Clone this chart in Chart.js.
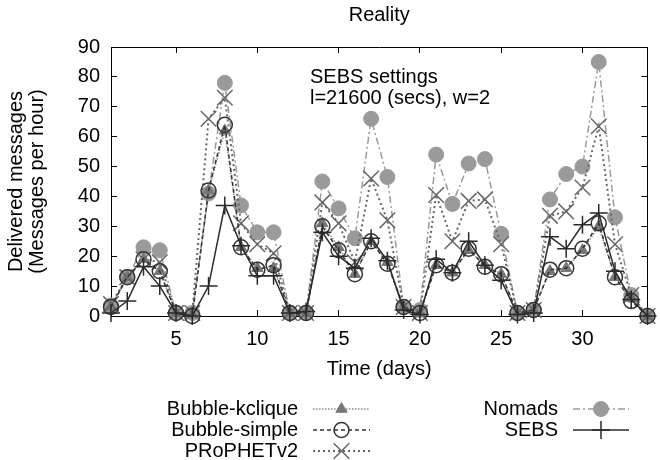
<!DOCTYPE html>
<html>
<head>
<meta charset="utf-8">
<script src="https://cdn.jsdelivr.net/npm/chart.js@4.4.0/dist/chart.umd.min.js"></script>
<style>
  html, body { margin: 0; padding: 0; background: #fff; }
</style>
</head>
<body>
<canvas id="myChart" width="660" height="460"></canvas>
<script>
const FONT = "'Liberation Sans', Arial, Helvetica, sans-serif";

const days = [1, 2, 3, 4, 5, 6, 7, 8, 9, 10, 11, 12, 13, 14, 15, 16, 17,
  18, 19, 20, 21, 22, 23, 24, 25, 26, 27, 28, 29, 30, 31, 32, 33, 34];
const xTicks = [5, 10, 15, 20, 25, 30];

const bubbleKclique = [3, 13, 19, 15, 1, 0.5, 42, 62, 23, 16, 16, 1, 1, 31, 23, 14, 25, 18,
  3, 1, 17, 14.5, 22, 17, 14, 1, 2, 15, 16, 22, 30, 13, 6, 0];
const bubbleSimple = [3, 13, 19, 15, 1, 0, 42, 64, 23, 15.5, 17, 1, 1, 30, 22, 14, 25, 17.5,
  3, 1, 17, 14.5, 22.5, 16.5, 14, 1, 2, 15.5, 16, 22.5, 31, 13, 5, 0];
const prophetV2 = [4, 13, 19, 18, 1, 1, 66, 73, 31, 24, 21, 1, 1, 38, 31, 18, 46, 32,
  3, 1, 40.5, 25, 38.5, 39, 24, 1, 2, 33.5, 35, 43, 63.5, 24, 7, 0];
const nomads = [3.5, 13, 23, 22, 1, 1, 41, 78, 37, 28, 28, 1, 1, 45, 36, 26, 66, 46.5,
  3, 2, 54, 37.5, 51, 52.5, 27.5, 1, 2, 39, 47.5, 50, 85, 33, 7, 0];
const sebs = [1, 5, 16.5, 10, 1, 0, 10, 37, 23.5, 13.5, 13.5, 1, 1.5, 28, 20, 16, 26, 18.5,
  2, 0.5, 19, 14.5, 25, 17, 12, 0.5, 1, 26.5, 22.5, 30.5, 34.5, 15, 5.5, 0];

const pts = arr => arr.map((v, i) => ({ x: days[i], y: v }));

const data = {
  datasets: [{
    label: 'Bubble-kclique',
    data: pts(bubbleKclique),
    borderColor: '#8c8c8c',
    borderDash: [1.5, 1.5],
    borderWidth: 1.5,
    pointStyle: 'triangle',
    pointRadius: 6.5,
    pointBackgroundColor: '#777',
    pointBorderColor: '#777',
    pointBorderWidth: 1,
    order: 4
  }, {
    label: 'Bubble-simple',
    data: pts(bubbleSimple),
    borderColor: '#333',
    borderDash: [4, 3],
    borderWidth: 1.5,
    pointStyle: 'circle',
    pointRadius: 7.5,
    pointBackgroundColor: 'rgba(0,0,0,0)',
    pointBorderColor: '#333',
    pointBorderWidth: 1.5,
    order: 2
  }, {
    label: 'PRoPHETv2',
    data: pts(prophetV2),
    borderColor: '#666',
    borderDash: [2, 3],
    borderWidth: 2,
    pointStyle: 'crossRot',
    pointRadius: 11,
    pointBackgroundColor: '#666',
    pointBorderColor: '#666',
    pointBorderWidth: 1.5,
    order: 3
  }, {
    label: 'Nomads',
    data: pts(nomads),
    borderColor: '#9a9a9a',
    borderDash: [7, 3, 2, 3],
    borderWidth: 1.5,
    pointStyle: 'circle',
    pointRadius: 7.5,
    pointBackgroundColor: '#9a9a9a',
    pointBorderColor: '#9a9a9a',
    pointBorderWidth: 1,
    order: 5
  }, {
    label: 'SEBS',
    data: pts(sebs),
    borderColor: '#2a2a2a',
    borderWidth: 1.5,
    pointStyle: 'cross',
    pointRadius: 9,
    pointBackgroundColor: '#2a2a2a',
    pointBorderColor: '#2a2a2a',
    pointBorderWidth: 1.5,
    order: 1
  }]
};

// legend slots like gnuplot: label right-aligned, then a line sample with the marker
const legendSlots = [
  { label: 'Bubble-kclique', right: 298, x1: 313, x2: 370, y: 409 },
  { label: 'Bubble-simple', right: 298, x1: 313, x2: 370, y: 430 },
  { label: 'PRoPHETv2', right: 298, x1: 313, x2: 370, y: 451 },
  { label: 'Nomads', right: 558, x1: 573, x2: 629, y: 409 },
  { label: 'SEBS', right: 558, x1: 573, x2: 629, y: 430 }
];

const gnuLegend = {
  id: 'gnuLegend',
  afterDraw(chart) {
    const ctx = chart.ctx;
    ctx.save();
    ctx.font = '20px ' + FONT;
    ctx.fillStyle = '#000';
    ctx.textAlign = 'left';
    ctx.textBaseline = 'middle';
    ctx.fillText('SEBS settings', 310, 77);
    ctx.fillText('l=21600 (secs), w=2', 310, 98);

    legendSlots.forEach(s => {
      const ds = chart.data.datasets.find(d => d.label === s.label);
      ctx.fillStyle = '#000';
      ctx.textAlign = 'right';
      ctx.setLineDash([]);
      ctx.fillText(s.label, s.right, s.y);

      ctx.beginPath();
      ctx.strokeStyle = ds.borderColor;
      ctx.lineWidth = ds.borderWidth;
      ctx.setLineDash(ds.borderDash || []);
      ctx.moveTo(s.x1, s.y);
      ctx.lineTo(s.x2, s.y);
      ctx.stroke();

      ctx.setLineDash([]);
      ctx.fillStyle = ds.pointBackgroundColor;
      ctx.strokeStyle = ds.pointBorderColor;
      ctx.lineWidth = ds.pointBorderWidth;
      Chart.helpers.drawPoint(ctx, {
        pointStyle: ds.pointStyle,
        radius: ds.pointRadius,
        rotation: 0,
        borderWidth: ds.pointBorderWidth
      }, (s.x1 + s.x2) / 2, s.y);
    });
    ctx.restore();
  }
};

const grid = { drawOnChartArea: false, tickLength: -6, color: '#000', lineWidth: 1 };
const border = { color: '#000', width: 1 };

const config = {
  type: 'line',
  data: data,
  plugins: [gnuLegend],
  options: {
    responsive: false,
    animation: false,
    devicePixelRatio: 1,
    layout: { padding: { left: 0, right: 0, top: 0, bottom: 76 } },
    elements: { line: { tension: 0, fill: false } },
    datasets: { line: { clip: false } },
    scales: {
      x: {
        type: 'linear',
        position: 'bottom',
        min: 1,
        max: 34,
        afterBuildTicks: s => { s.ticks = xTicks.map(v => ({ value: v })); },
        afterFit: s => { s.height = 68; },
        ticks: { padding: 17, color: '#000', font: { size: 20, family: FONT }, maxRotation: 0 },
        grid: grid,
        border: border,
        title: {
          display: true,
          text: 'Time (days)',
          color: '#000',
          font: { size: 20, family: FONT },
          padding: { top: 0, bottom: 3 }
        }
      },
      x2: {
        type: 'linear',
        position: 'top',
        min: 1,
        max: 34,
        afterBuildTicks: s => { s.ticks = xTicks.map(v => ({ value: v })); },
        afterFit: s => { s.height = 47; },
        ticks: { display: false },
        grid: grid,
        border: border,
        title: {
          display: true,
          text: 'Reality',
          color: '#000',
          font: { size: 20, family: FONT },
          padding: { top: 3, bottom: 0 }
        }
      },
      y: {
        position: 'left',
        min: 0,
        max: 90,
        afterFit: s => { s.width = 111; },
        ticks: { stepSize: 10, padding: 17, color: '#000', font: { size: 20, family: FONT } },
        grid: grid,
        border: border,
        title: {
          display: true,
          text: ['Delivered messages', '(Messages per hour)'],
          color: '#000',
          font: { size: 20, family: FONT, lineHeight: 1.05 },
          padding: { top: 6, bottom: 0 }
        }
      },
      y2: {
        position: 'right',
        min: 0,
        max: 90,
        afterFit: s => { s.width = 7; },
        ticks: { stepSize: 10, display: false },
        grid: grid,
        border: border
      }
    },
    plugins: {
      legend: { display: false },
      tooltip: { enabled: false }
    }
  }
};

const myChart = new Chart(document.getElementById('myChart'), config);
</script>
</body>
</html>
